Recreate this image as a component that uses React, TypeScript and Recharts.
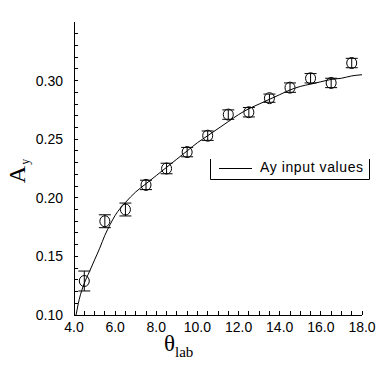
import React from 'react';
import { ComposedChart, Line, Scatter, XAxis, YAxis, ErrorBar, Legend } from 'recharts';

// Fitted curve ("Ay input values")
const curveX = [4.1, 4.25, 4.5, 4.75, 5.0, 5.25, 5.5, 5.75, 6.0, 6.5, 7.0, 7.5, 8.0, 8.5, 9.0, 9.5, 10.0, 10.5, 11.0, 11.5, 12.0, 12.5, 13.0, 13.5, 14.0, 14.5, 15.0, 15.5, 16.0, 16.5, 17.0, 17.5, 18.0];
const curveY = [0.100, 0.113, 0.127, 0.137, 0.147, 0.157, 0.168, 0.177, 0.185, 0.196, 0.205, 0.212, 0.219, 0.226, 0.233, 0.240, 0.247, 0.253, 0.259, 0.265, 0.271, 0.276, 0.280, 0.284, 0.288, 0.292, 0.295, 0.297, 0.299, 0.301, 0.302, 0.304, 0.305];

// Measured points with errors
const pointX = [4.5, 5.5, 6.5, 7.5, 8.5, 9.5, 10.5, 11.5, 12.5, 13.5, 14.5, 15.5, 16.5, 17.5];
const pointY = [0.129, 0.180, 0.190, 0.211, 0.225, 0.239, 0.253, 0.271, 0.273, 0.285, 0.294, 0.302, 0.298, 0.315];
const pointErr = [0.0085, 0.0055, 0.0055, 0.004, 0.0045, 0.004, 0.004, 0.004, 0.004, 0.0035, 0.004, 0.004, 0.004, 0.004];

const xTicks = [4.0, 4.5, 5.0, 5.5, 6.0, 6.5, 7.0, 7.5, 8.0, 8.5, 9.0, 9.5, 10.0, 10.5, 11.0, 11.5, 12.0, 12.5, 13.0, 13.5, 14.0, 14.5, 15.0, 15.5, 16.0, 16.5, 17.0, 17.5, 18.0];
const yTicks = [0.10, 0.11, 0.12, 0.13, 0.14, 0.15, 0.16, 0.17, 0.18, 0.19, 0.20, 0.21, 0.22, 0.23, 0.24, 0.25, 0.26, 0.27, 0.28, 0.29, 0.30, 0.31, 0.32, 0.33, 0.34];

const seriesName = 'Ay input values';

const curveData = curveX.map((x, i) => ({ x, y: curveY[i] }));
const pointData = pointX.map((x, i) => ({ x, y: pointY[i], err: pointErr[i] }));

const SANS = '"Liberation Sans", Arial, Helvetica, sans-serif';
const SERIF = '"Liberation Serif", "Times New Roman", serif';
const TL = 4;

const isXLabel = (v: number) => Math.abs(v - Math.round(v)) < 1e-6 && Math.round(v) % 2 === 0;
const isYLabel = (v: number) => Math.round(v * 100) % 5 === 0;

const BottomTick = (p: any) => {
  const { x, y, payload } = p;
  const v = payload.value;
  return (
    <g>
      <line x1={x} x2={x} y1={y} y2={y - TL} stroke="#000" shapeRendering="crispEdges" />
      {isXLabel(v) && (
        <text x={x} y={y + 17} textAnchor="middle" fontSize={14} fontFamily={SANS} fill="#000">
          {v.toFixed(1)}
        </text>
      )}
    </g>
  );
};

const TopTick = (p: any) => {
  const { x, y } = p;
  return <line x1={x} x2={x} y1={y} y2={y + TL} stroke="#000" shapeRendering="crispEdges" />;
};

const LeftTick = (p: any) => {
  const { x, y, payload } = p;
  const v = payload.value;
  return (
    <g>
      <line x1={x} x2={x + TL} y1={y} y2={y} stroke="#000" shapeRendering="crispEdges" />
      {isYLabel(v) && (
        <text x={x - 11} y={y + 5} textAnchor="end" fontSize={14} fontFamily={SANS} fill="#000">
          {v.toFixed(2)}
        </text>
      )}
    </g>
  );
};

const RightTick = (p: any) => {
  const { x, y } = p;
  return <line x1={x} x2={x - TL} y1={y} y2={y} stroke="#000" shapeRendering="crispEdges" />;
};

const Marker = (p: any) => (
  <ellipse cx={p.cx} cy={p.cy} rx={5} ry={5.5} fill="none" stroke="#000" strokeWidth={1} />
);

const XTitle = (p: any) => {
  const vb = p.viewBox || { x: 74, y: 315, width: 288 };
  const x = vb.x + 90;
  const y = vb.y + 36;
  return (
    <text x={x} y={y} fontFamily={SERIF} fontSize={23} fill="#000">
      θ
      <tspan fontSize={15} dy={6}>lab</tspan>
    </text>
  );
};

const YTitle = (p: any) => {
  const vb = p.viewBox || { x: 0, y: 22, width: 74, height: 293 };
  const x = vb.x + 25;
  const y = vb.y + 149;
  return (
    <text x={x} y={y} transform={`rotate(-90, ${x}, ${y})`} textAnchor="middle" fontFamily={SERIF} fontSize={24} fill="#000">
      A
      <tspan fontSize={12} dy={4} dx={1}>y</tspan>
    </text>
  );
};

const LegendBox = () => (
  <svg width={161} height={21} style={{ display: 'block' }}>
    <rect x={0} y={0} width={161} height={21} fill="#fff" />
    <path d="M0.5,0 V20.5 H159.5 V0" fill="none" stroke="#000" strokeWidth={1} />
    <line x1={9} x2={42} y1={9.5} y2={9.5} stroke="#000" strokeWidth={1} />
    <text x={50} y={13} fontFamily={SANS} fontSize={14} letterSpacing={0.6} fill="#000">
      {seriesName}
    </text>
  </svg>
);

export default function App() {
  return (
    <div style={{ position: 'absolute', left: 0, top: 0, background: '#fff' }}>
      <ComposedChart width={385} height={379} margin={{ top: 22, right: 23, bottom: 0, left: 0 }}>
        <XAxis
          xAxisId="b"
          dataKey="x"
          type="number"
          domain={[4, 18]}
          ticks={xTicks}
          interval={0}
          allowDataOverflow
          height={64}
          tickSize={0}
          tickMargin={0}
          tickLine={false}
          tick={<BottomTick />}
          axisLine={{ stroke: '#000', shapeRendering: 'crispEdges' }}
          label={<XTitle />}
        />
        <XAxis
          xAxisId="t"
          orientation="top"
          dataKey="x"
          type="number"
          domain={[4, 18]}
          ticks={xTicks}
          interval={0}
          allowDataOverflow
          height={0}
          tickSize={0}
          tickMargin={0}
          tickLine={false}
          tick={<TopTick />}
          axisLine={{ stroke: '#000', shapeRendering: 'crispEdges' }}
        />
        <YAxis
          yAxisId="l"
          type="number"
          domain={[0.1, 0.35]}
          ticks={yTicks}
          interval={0}
          allowDataOverflow
          width={74}
          tickSize={0}
          tickMargin={0}
          tickLine={false}
          tick={<LeftTick />}
          axisLine={{ stroke: '#000', shapeRendering: 'crispEdges' }}
          label={<YTitle />}
        />
        <YAxis
          yAxisId="r"
          orientation="right"
          type="number"
          domain={[0.1, 0.35]}
          ticks={yTicks}
          interval={0}
          allowDataOverflow
          width={0}
          tickSize={0}
          tickMargin={0}
          tickLine={false}
          tick={<RightTick />}
          axisLine={{ stroke: '#000', shapeRendering: 'crispEdges' }}
        />
        <Line
          xAxisId="b"
          yAxisId="l"
          data={curveData}
          dataKey="y"
          name={seriesName}
          type="monotone"
          stroke="#000"
          strokeWidth={1}
          dot={false}
          activeDot={false}
          isAnimationActive={false}
        />
        <Scatter
          xAxisId="b"
          yAxisId="l"
          data={pointData}
          dataKey="y"
          shape={<Marker />}
          legendType="none"
          isAnimationActive={false}
        >
          <ErrorBar dataKey="err" direction="y" width={6} stroke="#000" strokeWidth={1} isAnimationActive={false} />
        </Scatter>
        <Legend
          layout="horizontal"
          align="center"
          verticalAlign="middle"
          content={<LegendBox />}
          wrapperStyle={{ left: 210, top: 159, width: 161, height: 21, bottom: 'auto', right: 'auto' }}
        />
      </ComposedChart>
    </div>
  );
}
